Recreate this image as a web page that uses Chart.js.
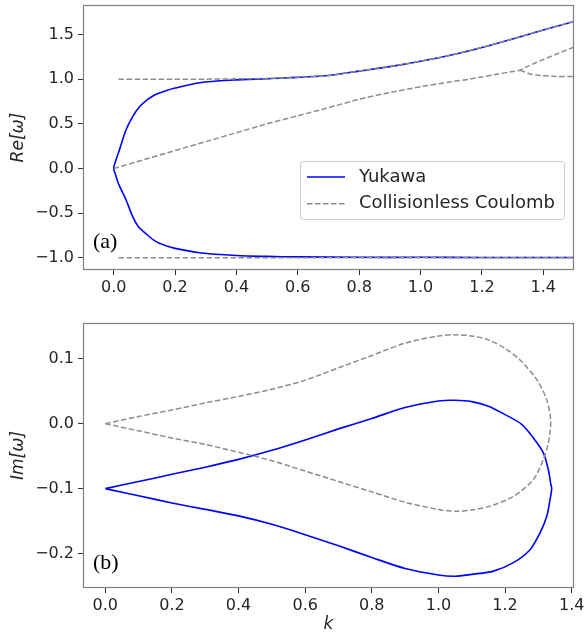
<!DOCTYPE html>
<html>
<head>
<meta charset="utf-8">
<script src="https://cdn.jsdelivr.net/npm/chart.js@4.4.1/dist/chart.umd.min.js"></script>
<style>
  body { margin: 0; background: #fff; }
  #panelA { position: absolute; left: 0; top: 0; }
  #panelB { position: absolute; left: 0; top: 300px; }
</style>
</head>
<body>
<canvas id="panelA" width="588" height="300"></canvas>
<canvas id="panelB" width="588" height="338"></canvas>
<script>
// ==================== DATOS ====================
// Panel (a): Re[ω] frente a k
const yukawaReK = [1.5, 1.2, 1.0, 0.8, 0.6, 0.5, 0.4, 0.28, 0.2, 0.17, 0.138, 0.105, 0.08, 0.062, 0.04, 0.018, 0.006, 0,
  0.006, 0.018, 0.04, 0.062, 0.084, 0.11, 0.138, 0.17, 0.2, 0.28, 0.39, 0.5, 0.6, 0.7, 0.8, 0.9, 1.0, 1.1, 1.2, 1.3, 1.4, 1.5];
const yukawaRe = [-0.997, -0.997, -0.995, -0.995, -0.99, -0.985, -0.975, -0.944, -0.895, -0.865, -0.82, -0.73, -0.65, -0.54, -0.35, -0.19, -0.07, 0,
  0.08, 0.2, 0.43, 0.58, 0.69, 0.77, 0.83, 0.87, 0.9, 0.96, 0.99, 1.005, 1.02, 1.04, 1.09, 1.14, 1.2, 1.27, 1.355, 1.45, 1.55, 1.645];

const coulombReSupK = [0.016, 0.1, 0.2, 0.3, 0.4, 0.5, 0.6, 0.7, 0.8, 0.9, 1.0, 1.1, 1.2, 1.3, 1.4, 1.5];
const coulombReSup = [1.0, 1.0, 1.0, 1.0, 1.003, 1.008, 1.02, 1.04, 1.09, 1.14, 1.2, 1.27, 1.355, 1.45, 1.55, 1.645];
const coulombReInfK = [0.016, 0.5, 1.0, 1.5];
const coulombReInf = [-1.0, -1.0, -1.0, -1.0];
const coulombReMedK = [0, 0.1, 0.2, 0.3, 0.4, 0.5, 0.6, 0.7, 0.8, 0.9, 1.0, 1.1, 1.16, 1.2, 1.25, 1.3, 1.324, 1.35, 1.4, 1.45, 1.5];
const coulombReMed = [0, 0.1, 0.2, 0.3, 0.4, 0.5, 0.59, 0.68, 0.775, 0.85, 0.915, 0.97, 1.0, 1.025, 1.055, 1.085, 1.1, 1.145, 1.22, 1.29, 1.36];
const coulombReRamaK = [1.324, 1.34, 1.36, 1.378, 1.43, 1.5];
const coulombReRama = [1.1, 1.08, 1.055, 1.045, 1.032, 1.028];

// Panel (b): Im[ω] frente a k
const yukawaImK = [0, 0.1, 0.2, 0.3, 0.4, 0.5, 0.6, 0.7, 0.8, 0.9, 1.0, 1.05, 1.1, 1.15, 1.2, 1.25, 1.285, 1.315, 1.33, 1.337, 1.34,
  1.335, 1.325, 1.305, 1.275, 1.225, 1.165, 1.1, 1.05, 1.0, 0.9, 0.8, 0.7, 0.6, 0.5, 0.4, 0.3, 0.2, 0.1, 0];
const yukawaIm = [-0.1, -0.089, -0.078, -0.067, -0.055, -0.041, -0.025, -0.008, 0.008, 0.025, 0.035, 0.036, 0.034, 0.027, 0.014, -0.001, -0.022, -0.045, -0.071, -0.092, -0.1,
  -0.117, -0.143, -0.168, -0.194, -0.214, -0.227, -0.232, -0.235, -0.233, -0.223, -0.206, -0.188, -0.171, -0.155, -0.142, -0.132, -0.122, -0.111, -0.1];

const coulombImK = [0, 0.1, 0.2, 0.3, 0.4, 0.5, 0.6, 0.7, 0.8, 0.9, 1.0, 1.05, 1.1, 1.15, 1.2, 1.245, 1.295, 1.325, 1.337,
  1.335, 1.33, 1.315, 1.285, 1.225, 1.155, 1.1, 1.05, 1.0, 0.9, 0.8, 0.7, 0.6, 0.5, 0.4, 0.3, 0.2, 0.1, 0];
const coulombIm = [0, 0.011, 0.021, 0.032, 0.042, 0.053, 0.067, 0.086, 0.105, 0.124, 0.135, 0.137, 0.135, 0.129, 0.116, 0.098, 0.068, 0.037, 0.006,
  -0.012, -0.03, -0.055, -0.086, -0.112, -0.127, -0.133, -0.135, -0.132, -0.121, -0.105, -0.089, -0.073, -0.057, -0.044, -0.032, -0.022, -0.011, 0];

// Marcas de los ejes
const ticksKa = [0, 0.2, 0.4, 0.6, 0.8, 1.0, 1.2, 1.4];
const ticksRe = [-1.0, -0.5, 0, 0.5, 1.0, 1.5];
const ticksKb = [0, 0.2, 0.4, 0.6, 0.8, 1.0, 1.2, 1.4];
const ticksIm = [-0.2, -0.1, 0, 0.1];

// ==================== FUNCIONES ====================
function puntos(ks, vs) {
  return ks.map((k, i) => ({ x: k, y: vs[i] }));
}

function formato(v) {
  return (v < 0 ? "\u2212" : "") + Math.abs(v).toFixed(1);
}

const colorTexto = "#262626";
const fuenteTicks = { family: "DejaVu Sans", size: 16 };

function serieYukawa(data, enLeyenda, tension) {
  return {
    label: "Yukawa", data, enLeyenda,
    borderColor: "#0000ff", borderWidth: 1.6, tension,
    pointRadius: 0, showLine: true, fill: false, order: 2
  };
}

function serieCoulomb(data, enLeyenda, tension) {
  return {
    label: "Collisionless Coulomb", data, enLeyenda,
    borderColor: "#8c8c8c", borderWidth: 1.5, borderDash: [5.5, 2.5], tension,
    pointRadius: 0, showLine: true, fill: false, order: 1
  };
}

function ejes(xMin, xMax, xTicks, yMin, yMax, yTicks, altoX, tituloY, tituloX) {
  return {
    x: {
      type: "linear", min: xMin, max: xMax,
      afterBuildTicks: s => { s.ticks = xTicks.map(v => ({ value: v })); },
      afterFit: s => { s.height = altoX; s.paddingLeft = 0; s.paddingRight = 0; },
      ticks: { callback: formato, font: fuenteTicks, color: colorTexto, padding: 3, maxRotation: 0, autoSkip: false },
      grid: { drawOnChartArea: false, drawTicks: true, tickLength: 5, color: "#333" },
      border: { display: false },
      title: {
        display: !!tituloX, text: tituloX || "", color: colorTexto,
        font: { family: "DejaVu Sans", size: 17, style: "italic" }, padding: { top: 0, bottom: 3 }
      }
    },
    y: {
      type: "linear", min: yMin, max: yMax,
      afterBuildTicks: s => { s.ticks = yTicks.map(v => ({ value: v })); },
      afterFit: s => { s.width = 83; s.paddingTop = 0; s.paddingBottom = 0; },
      ticks: { callback: formato, font: fuenteTicks, color: colorTexto, padding: 4, autoSkip: false },
      grid: { drawOnChartArea: false, drawTicks: true, tickLength: 5, color: "#333" },
      border: { display: false },
      title: {
        display: true, text: tituloY, color: colorTexto,
        font: { family: "DejaVu Sans", size: 17, style: "italic" }, padding: { top: 8, bottom: 0 }
      }
    }
  };
}

// Marco gris y etiqueta (a)/(b)
const marco = {
  id: "marco",
  afterDraw(chart, args, opts) {
    const { ctx, chartArea } = chart;
    ctx.save();
    ctx.strokeStyle = "#808080";
    ctx.lineWidth = 1.2;
    ctx.strokeRect(Math.round(chartArea.left) + 0.5, Math.round(chartArea.top) + 0.5,
      Math.round(chartArea.width) - 1, Math.round(chartArea.height) - 1);
    ctx.fillStyle = "#000";
    ctx.font = '22px "Liberation Serif"';
    ctx.textBaseline = "middle";
    ctx.textAlign = "left";
    ctx.fillText(opts.texto, chartArea.left + 10, chartArea.bottom - opts.abajo);
    ctx.restore();
  }
};

// Leyenda con caja dentro del panel (a)
const cajaLeyenda = {
  id: "cajaLeyenda",
  afterDatasetsDraw(chart) {
    const { ctx, chartArea } = chart;
    const x = chartArea.right - 274, y = chartArea.top + 156;
    ctx.save();
    ctx.beginPath();
    ctx.roundRect(x + 0.5, y + 0.5, 264, 58, 3);
    ctx.fillStyle = "rgba(255,255,255,0.8)";
    ctx.fill();
    ctx.strokeStyle = "#cccccc";
    ctx.lineWidth = 1;
    ctx.stroke();
    const entradas = chart.data.datasets.filter(d => d.enLeyenda);
    entradas.forEach((d, i) => {
      const yy = y + 16 + i * 26.7;
      ctx.beginPath();
      ctx.setLineDash(d.borderDash || []);
      ctx.strokeStyle = d.borderColor;
      ctx.lineWidth = d.borderWidth;
      ctx.moveTo(x + 7, yy);
      ctx.lineTo(x + 45, yy);
      ctx.stroke();
      ctx.setLineDash([]);
      ctx.fillStyle = colorTexto;
      ctx.font = '18px "DejaVu Sans"';
      ctx.textBaseline = "middle";
      ctx.fillText(d.label, x + 59, yy);
    });
    ctx.restore();
  }
};

// ==================== GRÁFICOS ====================
new Chart(document.getElementById("panelA"), {
  type: "scatter",
  data: {
    datasets: [
      serieYukawa(puntos(yukawaReK, yukawaRe), true, 0.3),
      serieCoulomb(puntos(coulombReSupK, coulombReSup), true, 0.3),
      serieCoulomb(puntos(coulombReInfK, coulombReInf), false, 0),
      serieCoulomb(puntos(coulombReMedK, coulombReMed), false, 0.2),
      serieCoulomb(puntos(coulombReRamaK, coulombReRama), false, 0.3)
    ]
  },
  options: {
    responsive: false, animation: false, devicePixelRatio: 1,
    layout: { padding: { top: 5, right: 14, left: 0, bottom: 0 } },
    plugins: { legend: { display: false }, tooltip: { enabled: false }, marco: { texto: "(a)", abajo: 28 } },
    scales: ejes(-0.1, 1.5, ticksKa, -1.137, 1.83, ticksRe, 30, "Re[\u03c9]", null)
  },
  plugins: [marco, cajaLeyenda]
});

new Chart(document.getElementById("panelB"), {
  type: "scatter",
  data: {
    datasets: [
      serieYukawa(puntos(yukawaImK, yukawaIm), true, 0.3),
      serieCoulomb(puntos(coulombImK, coulombIm), true, 0.3)
    ]
  },
  options: {
    responsive: false, animation: false, devicePixelRatio: 1,
    layout: { padding: { top: 23, right: 14, left: 0, bottom: 0 } },
    plugins: { legend: { display: false }, tooltip: { enabled: false }, marco: { texto: "(b)", abajo: 25 } },
    scales: ejes(-0.067, 1.407, ticksKb, -0.253, 0.155, ticksIm, 50, "Im[\u03c9]", "k")
  },
  plugins: [marco]
});
</script>
</body>
</html>
